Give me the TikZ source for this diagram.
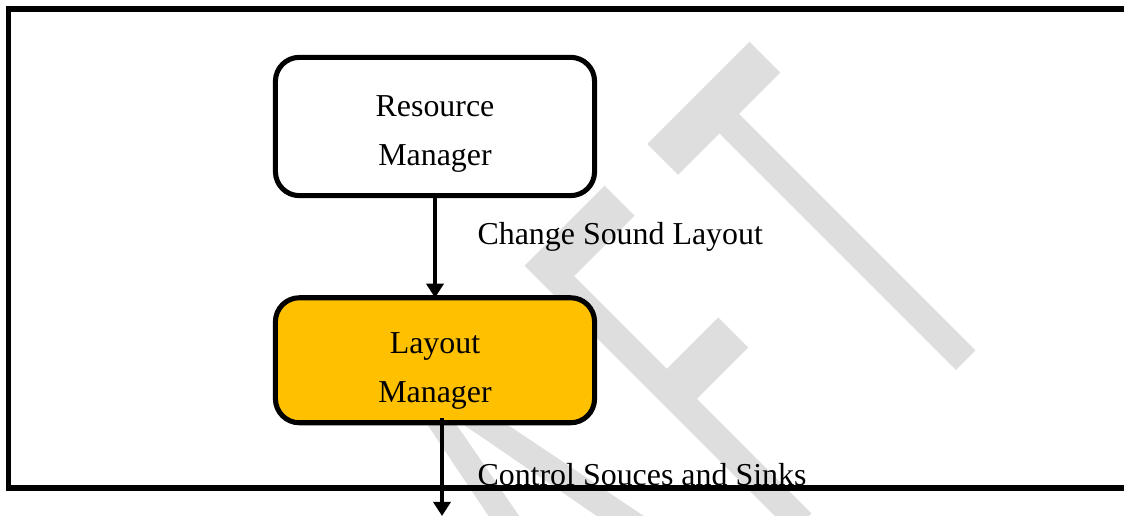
\documentclass[tikz,border=0pt]{standalone}
\usepackage{fontspec}
\setmainfont{Liberation Serif}
\newfontfamily\wmfont{Carlito}[LetterSpace=15]
\usepackage{xcolor}
\definecolor{cGold}{HTML}{FFC000}
\definecolor{cMark}{HTML}{DEDEDE}
\usetikzlibrary{positioning,arrows.meta,calc}
\tikzset{
  mgr-box/.style={draw=black,line width=1.9pt,rounded corners=9pt,
    minimum width=120pt,align=center,outer sep=0pt,
    font=\fontsize{12pt}{18.4pt}\selectfont},
  mgr-active/.style={fill=cGold},
  flow-label/.style={anchor=base west,inner sep=0pt,
    font=\fontsize{12pt}{14pt}\selectfont},
  arrow/.style={-{Triangle[length=5.3pt,width=6.4pt]},line width=1.5pt},
  frame/.style={line width=1.9pt},
  watermark/.style={text=cMark,inner sep=0pt,anchor=base west,
    font=\wmfont\fontsize{117.3pt}{117.3pt}\selectfont},
}

\begin{document}
\begin{tikzpicture}[x=0.376pt,y=-0.376pt]
  \useasboundingbox (0,0) rectangle (1124,516);
  \clip (0,0) rectangle (1124,516);
  % watermark behind everything
  \node[watermark,cm={0.707,0.707,-1.336,1.336,(0,0)}] (wm) at (295,1031.5) {DRAFT};
  \draw[frame] (1140,9) -- (8.5,9) -- (8.5,488) -- (1140,488);
  \node[mgr-box,minimum height=52pt,text height=31.6pt,fill=white] (rm)
    at (435,126.5) {Resource\\Manager};
  \node[mgr-box,mgr-active,minimum height=47pt,text height=34.6pt,
    below=38.4pt of rm] (lm) {Layout\\Manager};
  \coordinate (out) at (442,516);
  \draw[arrow] (rm) -- (lm);
  \draw[arrow] ($(lm.south)+(7,-4.5)$) -- (out);
  \node[flow-label] (l1) at (477,245) {Change Sound Layout};
  \node[flow-label] (l2) at (477,486) {Control Souces and Sinks};
\end{tikzpicture}
\end{document}
